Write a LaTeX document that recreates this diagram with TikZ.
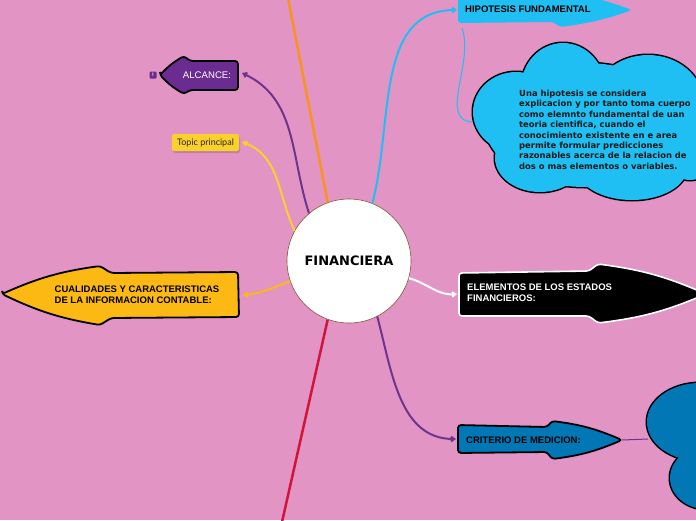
\documentclass[tikz,border=0pt]{standalone}
\usepackage{fontspec}
\setmainfont{Liberation Sans}
\newfontfamily\dvfont{DejaVu Sans}
\newfontfamily\topicfont{Lato}
\usetikzlibrary{arrows.meta}
\definecolor{bgpink}{HTML}{E294C4}
\definecolor{alcpurple}{HTML}{6A2C90}
\definecolor{linepurple}{HTML}{6E358E}
\definecolor{topicyel}{HTML}{FAD02A}
\definecolor{cualyel}{HTML}{FDB913}
\definecolor{hipblue}{HTML}{1FBFF3}
\definecolor{critblue}{HTML}{0277B5}
\definecolor{orangeline}{HTML}{F7941D}
\definecolor{redline}{HTML}{D2143A}
\tikzset{
  conn/.style={line width=2pt, -{Straight Barb[angle=70:4pt]}},
  shapeout/.style={line width=1.8pt, draw=black, rounded corners=3pt},
  lbl/.style={font=\bfseries\fontsize{9.5}{10.8}\selectfont, align=left, inner sep=0pt}
}
\begin{document}
\begin{tikzpicture}[x=1pt,y=-1pt]
\useasboundingbox (0,0) rectangle (696,520);
\fill[bgpink] (0,0) rectangle (696,520);
\begin{scope}
\clip (0,0) rectangle (696,520);
% centre node
\node[circle, minimum size=124pt, inner sep=0pt] (fin) at (349,261) {};
% named anchor points of the topic shapes
\coordinate (orgtop) at (288,-2);
\coordinate (redbot) at (282,522);
\coordinate (alc) at (242,73);
\coordinate (topic) at (242,142);
\coordinate (cual) at (243,295);
\coordinate (hip) at (457,10);
\coordinate (hipfoot) at (462,28);
\coordinate (hipcloud) at (474,122);
\coordinate (elem) at (457,294);
\coordinate (crit) at (456,439);
\coordinate (crittip) at (622,440);
\coordinate (critcloud) at (648,439);

% main branch lines
\draw[orangeline, line width=2.5pt] (orgtop) -- (fin.110);
\draw[redline, line width=2.5pt] (redbot) -- (fin.250);

% centre circle
\node[circle, minimum size=124pt, inner sep=0pt, fill=white, draw=brown!70!black, line width=0.6pt,
      font=\dvfont\bfseries\fontsize{13}{15}\selectfont] at (fin) {FINANCIERA};

% ALCANCE arrow (left)
\draw[shapeout, fill=alcpurple] (160,75) to[bend left=8] (184,56) -- (190,61) -- (238,61) -- (238,90) -- (190,90) -- (184,94) to[bend left=8] cycle;
\node[inner sep=0pt, font=\fontsize{9.6}{11}\selectfont, text=white] (alclbl) at (207,75) {ALCANCE:};
\node[fill=alcpurple, rounded corners=1pt, minimum width=7pt, minimum height=7pt, inner sep=0pt,
      text=white, font=\bfseries\fontsize{5}{5}\selectfont] (badge) at (153,75) {!};

% Topic principal
\fill[black, opacity=0.15, rounded corners=2pt] (173,136) rectangle (240,153);
\node[fill=topicyel, rounded corners=2pt, minimum width=67pt, minimum height=17pt, inner sep=0pt,
      font=\topicfont\fontsize{9}{10}\selectfont, text=black!85] (tp) at (205.5,142.5) {Topic principal};

% CUALIDADES arrow (left)
\draw[shapeout, fill=cualyel] (2,294) to[bend left=8] (100,266) -- (111,273) -- (238,272) -- (239,317) -- (111,318) -- (100,325) to[bend left=8] cycle;
\node[lbl, align=left] (cuallbl) at (137,295) {CUALIDADES Y CARACTERISTICAS\\DE LA INFORMACION CONTABLE:};

% HIPOTESIS arrow (right, no outline)
\fill[hipblue, rounded corners=3pt] (458,-5) -- (458,23) -- (553,22) -- (560,27) to[bend left=-6] (632,10) to[bend left=-6] (560,-8) -- cycle;
\node[lbl, anchor=west] (hiplbl) at (465,9) {HIPOTESIS FUNDAMENTAL};

% ELEMENTOS arrow (right, black with white outline)
\draw[shapeout, draw=white, line width=1.6pt, fill=black] (459,273) -- (589,271) -- (598,264) to[bend left=8] (706,294) to[bend left=8] (598,323) -- (589,316) -- (459,316) -- cycle;
\node[lbl, anchor=west, text=white] (elemlbl) at (467,293) {ELEMENTOS DE LOS ESTADOS\\FINANCIEROS:};

% CRITERIO arrow (right)
\draw[shapeout, fill=critblue] (458,425) -- (547,427) -- (552,421) to[bend left=8] (622,440) to[bend left=8] (552,459) -- (547,452) -- (458,453) -- cycle;
\node[lbl, anchor=west] (critlbl) at (466,440) {CRITERIO DE MEDICION:};

% connectors
\draw[conn, linepurple] (fin.130) to[out=108,in=-25] (alc);
\draw[conn, topicyel] (fin.151) to[out=115,in=-20] (topic);
\draw[conn, cualyel] (fin.199) to[out=200,in=5] (cual);
\draw[conn, hipblue] (fin.68) to[out=75,in=180] (hip);
\draw[hipblue, line width=1pt] (hipfoot) to[out=-70,in=180] (hipcloud);
\draw[conn, white] (fin.-16) to[out=-15,in=185] (elem);
\draw[conn, linepurple] (fin.297) to[out=-75,in=180] (crit);
\draw[linepurple, line width=1pt] (crittip) -- (critcloud);

% light blue cloud
\begin{scope}
\foreach \cx/\cy/\rx/\ry in {585/125/100/62, 563/88/42/45, 516/112/43/40, 648/102/55/47, 540/158/45/34, 632/168/55/32, 690/140/30/40}{
  \draw[black, line width=3pt, fill=black] (\cx,\cy) ellipse[x radius=\rx, y radius=\ry];
}
\foreach \cx/\cy/\rx/\ry in {585/125/100/62, 563/88/42/45, 516/112/43/40, 648/102/55/47, 540/158/45/34, 632/168/55/32, 690/140/30/40}{
  \fill[hipblue] (\cx,\cy) ellipse[x radius=\rx, y radius=\ry];
}
\end{scope}
\node[anchor=north west, inner sep=0pt, align=left, font=\dvfont\bfseries\fontsize{8.4}{10.4}\selectfont, text=black!90] (hiptext) at (519,90)
{Una hipotesis se considera\\explicacion y por tanto toma cuerpo\\como elemnto fundamental de uan\\teoria cientifica, cuando el\\conocimiento existente en e area\\permite formular predicciones\\razonables acerca de la relacion de\\dos o mas elementos o variables.};

% dark blue cloud
\foreach \cx/\cy/\rx/\ry in {700/422/53/39, 706/478/36/31}{
  \draw[black, line width=3pt, fill=black] (\cx,\cy) ellipse[x radius=\rx, y radius=\ry];
}
\foreach \cx/\cy/\rx/\ry in {700/422/53/39, 706/478/36/31}{
  \fill[critblue] (\cx,\cy) ellipse[x radius=\rx, y radius=\ry];
}
\end{scope}
\end{tikzpicture}
\end{document}
